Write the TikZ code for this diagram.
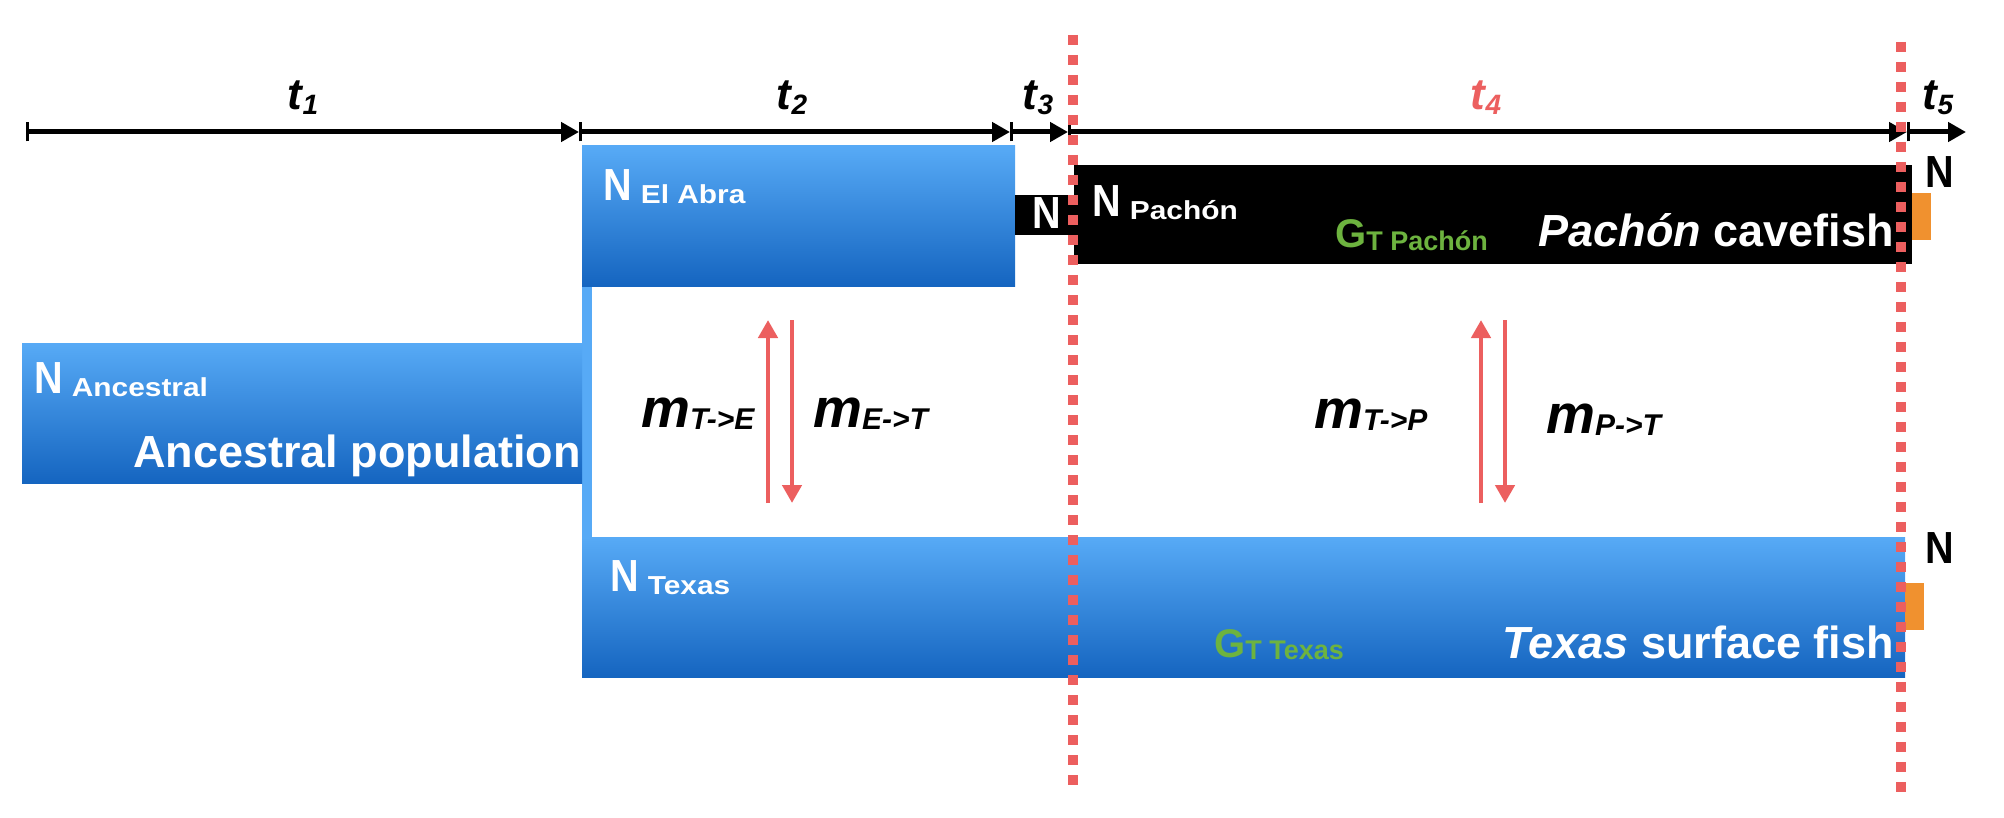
\documentclass[tikz,border=0pt]{standalone}
\usepackage{fontspec}
\usepackage{graphicx}
\setmainfont{Liberation Sans}
\usetikzlibrary{arrows.meta}
\definecolor{lblue}{HTML}{57AAF6}
\definecolor{dblue}{HTML}{1565C0}
\definecolor{dotred}{HTML}{EC5F5F}
\definecolor{orng}{HTML}{F0912F}
\definecolor{gtgreen}{HTML}{6DB33F}
\newcommand{\fsz}[1]{\fontsize{#1}{#1}\selectfont}
\newcommand{\bigN}{\scalebox{0.88}[1]{\fsz{45}N}}
\newcommand{\Nsub}[1]{\bigN\hspace{9pt}\raisebox{-3pt}{\fsz{26}\scalebox{1.15}[1]{#1}}}
\newcommand{\Gsub}[1]{{\fsz{40}G}\raisebox{-2pt}{\fsz{27}#1}}
\newcommand{\mlab}[1]{\itshape{\fsz{55}m}\raisebox{-2pt}{\fsz{30}#1}}
\newcommand{\tlab}[1]{\itshape{\fsz{44}t}\raisebox{-5pt}{\fsz{28}#1}}
\begin{document}
\begin{tikzpicture}[x=1pt,y=-1pt,
  popbox/.style={shading=axis, top color=lblue, bottom color=dblue, draw=none},
  blackbox/.style={fill=black, draw=none},
  lbl/.style={inner sep=0pt, font=\bfseries},
  tseg/.style={line width=5pt, arrows={Bar[width=19pt,line width=2.5pt]-Triangle[length=18pt,width=19pt]}},
  mig/.style={draw=dotred, line width=4.5pt, -{Triangle[length=18pt,width=19pt]}},
  dotline/.style={draw=dotred, line width=10pt, dash pattern=on 10pt off 10pt}
]
\useasboundingbox (0,0) rectangle (2004,818);

% population boxes
\fill[lblue] (582,284) rectangle (592,539);
\path[popbox] (22,343) rectangle (582,483);
\path[popbox] (582,146) rectangle (1015,286);
\path[popbox] (582,537) rectangle (1905,677);
\path[blackbox] (1015,195) rectangle (1074,235);
\path[blackbox] (1074,165) rectangle (1912,264);
\fill[orng] (1912,193) rectangle (1931,240);
\fill[orng] (1905,583) rectangle (1924,630);

% timeline
\coordinate (a0) at (26,132);
\coordinate (a1) at (579,132);
\coordinate (a2) at (1010,132);
\coordinate (a3) at (1068,132);
\coordinate (a4) at (1907,132);
\coordinate (a5) at (1966,132);
\draw[tseg] (a0) -- (a1);
\draw[tseg] (a1) -- (a2);
\draw[tseg] (a2) -- (a3);
\draw[tseg] (a3) -- (a4);
\draw[tseg] (a4) -- (a5);

\node[lbl, anchor=base] (t1) at (303,110) {\tlab{1}};
\node[lbl, anchor=base] (t2) at (792,110) {\tlab{2}};
\node[lbl, anchor=base] (t3) at (1038,110) {\tlab{3}};
\node[lbl, anchor=base, text=dotred] (t4) at (1486,110) {\tlab{4}};
\node[lbl, anchor=base] (t5) at (1938,110) {\tlab{5}};

% labels in boxes
\node[lbl, anchor=base west, text=white] (nanc) at (34,393) {\Nsub{Ancestral}};
\node[lbl, anchor=base east, text=white] (anc) at (581,467) {\fsz{45}Ancestral population};
\node[lbl, anchor=base west, text=white] (nel) at (603,201) {\Nsub{El Abra}};
\node[lbl, anchor=base, text=white] (nsm) at (1047,229) {\bigN};
\node[lbl, anchor=base west, text=white] (npa) at (1092,217) {\Nsub{Pachón}};
\node[lbl, anchor=base west, text=gtgreen] (gpa) at (1335,248) {\Gsub{T Pachón}};
\node[lbl, anchor=base east, text=white] (cave) at (1894,247) {\fsz{45}\textit{Pachón} cavefish};
\node[lbl, anchor=base west, text=white] (ntx) at (610,591) {\Nsub{Texas}};
\node[lbl, anchor=base west, text=gtgreen] (gtx) at (1214,657) {\Gsub{T Texas}};
\node[lbl, anchor=base east, text=white] (surf) at (1894,658) {\fsz{45}\textit{Texas} surface fish};
\node[lbl, anchor=base] (nt) at (1940,188) {\bigN};
\node[lbl, anchor=base] (nb) at (1940,563) {\bigN};

% migration
\coordinate (u1s) at (768,503); \coordinate (u1e) at (768,320);
\coordinate (d1s) at (792,320); \coordinate (d1e) at (792,503);
\coordinate (u2s) at (1481,503); \coordinate (u2e) at (1481,320);
\coordinate (d2s) at (1505,320); \coordinate (d2e) at (1505,503);
\draw[mig] (u1s) -- (u1e);
\draw[mig] (d1s) -- (d1e);
\draw[mig] (u2s) -- (u2e);
\draw[mig] (d2s) -- (d2e);
\node[lbl, anchor=base west] (m1) at (641,427) {\mlab{T->E}};
\node[lbl, anchor=base west] (m2) at (813,427) {\mlab{E->T}};
\node[lbl, anchor=base west] (m3) at (1314,428) {\mlab{T->P}};
\node[lbl, anchor=base west] (m4) at (1546,433) {\mlab{P->T}};

% dotted lines
\coordinate (da) at (1073,35); \coordinate (db) at (1073,786);
\coordinate (dc) at (1901,42); \coordinate (dd) at (1901,793);
\draw[dotline] (da) -- (db);
\draw[dotline] (dc) -- (dd);
\end{tikzpicture}
\end{document}
